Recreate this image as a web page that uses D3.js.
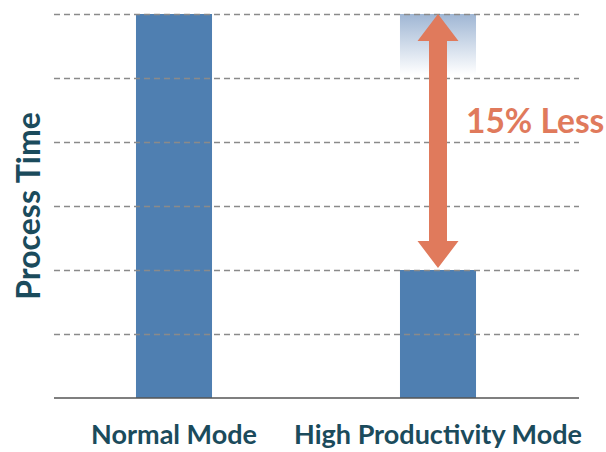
<!DOCTYPE html>
<html>
<head>
<meta charset="utf-8">
<script src="https://cdn.jsdelivr.net/npm/d3@7"></script>
<style>
  body { margin: 0; background: #fff; }
  text { font-family: Lato, 'Open Sans', sans-serif; font-weight: bold; }
</style>
</head>
<body>
<svg id="chart" width="606" height="452"></svg>
<script>
// data
const categories = ['Normal Mode', 'High Productivity Mode'];
const processTime = [6, 2];
const gridTicks = [1, 2, 3, 4, 5, 6];
const yLabel = 'Process Time';
const diffLabel = '15% Less';

const svg = d3.select('#chart');

const x = d3.scaleBand()
  .domain(categories)
  .range([42, 570])
  .paddingInner(0.712)
  .paddingOuter(0.356);

const y = d3.scaleLinear()
  .domain([0, 6])
  .range([398, 14]);

const barColor = '#4f7fb1';
const accent = '#e07a5c';
const labelColor = '#1b4b5c';

// faded "ghost" top of the second bar
const defs = svg.append('defs');
const grad = defs.append('linearGradient')
  .attr('id', 'ghost')
  .attr('x1', 0).attr('y1', 0).attr('x2', 0).attr('y2', 1);
grad.append('stop').attr('offset', '0%').attr('stop-color', '#9fb6d4');
grad.append('stop').attr('offset', '100%').attr('stop-color', '#ffffff');

svg.append('rect')
  .attr('x', x(categories[1]))
  .attr('y', y(processTime[0]))
  .attr('width', x.bandwidth())
  .attr('height', y(5.05) - y(processTime[0]))
  .attr('fill', 'url(#ghost)');

// bars
svg.selectAll('rect.bar')
  .data(processTime)
  .join('rect')
  .attr('class', 'bar')
  .attr('x', (d, i) => x(categories[i]))
  .attr('y', d => y(d))
  .attr('width', x.bandwidth())
  .attr('height', d => y(0) - y(d))
  .attr('fill', barColor);

// gridlines (drawn over the bars)
svg.append('g')
  .selectAll('line')
  .data(gridTicks)
  .join('line')
  .attr('x1', 54).attr('x2', 579)
  .attr('y1', d => y(d) + 0.5).attr('y2', d => y(d) + 0.5)
  .attr('stroke', '#8a8a8a')
  .attr('stroke-width', 1.3)
  .attr('stroke-dasharray', '6,4');

// baseline
svg.append('line')
  .attr('x1', 54).attr('x2', 579)
  .attr('y1', y(0)).attr('y2', y(0))
  .attr('stroke', '#555')
  .attr('stroke-width', 1.6);

// double arrow
const cx = x(categories[1]) + x.bandwidth() / 2;
const yTop = y(processTime[0]);
const yBot = y(processTime[1]) - 2;
const headW = 20.5, headL = 27, shaftW = 9;
const arrow = [
  [cx, yTop],
  [cx + headW, yTop + headL],
  [cx + shaftW, yTop + headL],
  [cx + shaftW, yBot - headL],
  [cx + headW, yBot - headL],
  [cx, yBot],
  [cx - headW, yBot - headL],
  [cx - shaftW, yBot - headL],
  [cx - shaftW, yTop + headL],
  [cx - headW, yTop + headL]
];
svg.append('path')
  .attr('d', d3.line()(arrow) + 'Z')
  .attr('fill', accent);

svg.append('text')
  .attr('x', 466)
  .attr('y', 133)
  .attr('font-size', 33.5)
  .attr('fill', accent)
  .text(diffLabel);

// category labels
svg.selectAll('text.cat')
  .data(categories)
  .join('text')
  .attr('class', 'cat')
  .attr('x', d => x(d) + x.bandwidth() / 2)
  .attr('y', 444)
  .attr('text-anchor', 'middle')
  .attr('font-size', 27)
  .attr('fill', labelColor)
  .text(d => d);

// y label
svg.append('text')
  .attr('transform', 'translate(40,206) rotate(-90)')
  .attr('text-anchor', 'middle')
  .attr('font-size', 32)
  .attr('fill', labelColor)
  .text(yLabel);
</script>
</body>
</html>
